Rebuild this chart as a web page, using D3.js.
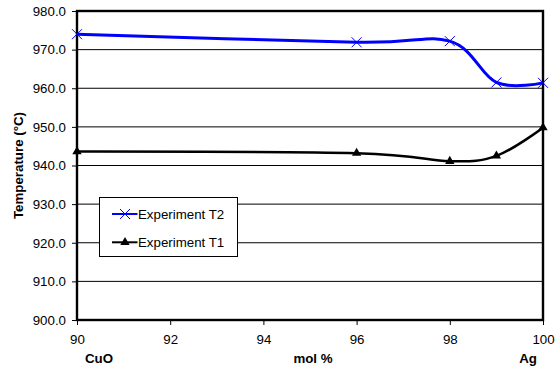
<!DOCTYPE html>
<html>
<head>
<meta charset="utf-8">
<script src="https://cdn.jsdelivr.net/npm/d3@7"></script>
<style>
  html, body { margin: 0; padding: 0; background: #fff; }
  svg { display: block; font-family: "Liberation Sans", Arial, sans-serif; }
</style>
</head>
<body>
<svg id="chart" width="555" height="369"></svg>
<script>
// Composition (mol %) and measured temperatures
const molPercent = [90, 96, 98, 99, 100];
const tempT2 = [974.0, 971.9, 972.2, 961.5, 961.4];
const tempT1 = [943.6, 943.2, 941.1, 942.5, 949.8];
const xTicks = [90, 92, 94, 96, 98, 100];
const yTicks = [900, 910, 920, 930, 940, 950, 960, 970, 980];
const seriesNames = ["Experiment T2", "Experiment T1"];

const FONT = 13.3;
const svg = d3.select("#chart");
const plotLeft = 77, plotRight = 543, plotTop = 11, plotBottom = 320;

const x = d3.scaleLinear().domain([90, 100]).range([plotLeft, plotRight]);
const y = d3.scaleLinear().domain([900, 980]).range([plotBottom, plotTop]);

// Horizontal gridlines
svg.append("g")
  .selectAll("line")
  .data(yTicks)
  .join("line")
  .attr("x1", plotLeft).attr("x2", plotRight)
  .attr("y1", d => y(d))
  .attr("y2", d => y(d))
  .attr("stroke", "#000")
  .attr("stroke-width", 1);

// Y axis
const yAxis = d3.axisLeft(y).tickValues(yTicks).tickFormat(d3.format(".1f"))
  .tickSize(5).tickSizeOuter(0).tickPadding(6);
const gy = svg.append("g").attr("transform", `translate(${plotLeft},0)`).call(yAxis);
gy.select(".domain").remove();
gy.selectAll("line").attr("stroke", "#000");
gy.selectAll("text").attr("font-size", FONT).attr("fill", "#000");

// X axis
const xAxis = d3.axisBottom(x).tickValues(xTicks).tickFormat(d3.format("d"))
  .tickSize(5).tickSizeOuter(0).tickPadding(10);
const gx = svg.append("g").attr("transform", `translate(0,${plotBottom})`).call(xAxis);
gx.select(".domain").remove();
gx.selectAll("line").attr("stroke", "#000");
gx.selectAll("text").attr("font-size", FONT).attr("fill", "#000");

// Plot frame
svg.append("rect")
  .attr("x", plotLeft).attr("y", plotTop)
  .attr("width", plotRight - plotLeft).attr("height", plotBottom - plotTop)
  .attr("fill", "none").attr("stroke", "#000").attr("stroke-width", 2.4);

// Axis titles
const titleY = 362.5;
svg.append("text").attr("x", 99).attr("y", titleY).attr("text-anchor", "middle")
  .attr("font-size", FONT).attr("font-weight", "bold").text("CuO");
svg.append("text").attr("x", 313).attr("y", titleY).attr("text-anchor", "middle")
  .attr("font-size", FONT).attr("font-weight", "bold").text("mol %");
svg.append("text").attr("x", 528).attr("y", titleY).attr("text-anchor", "middle")
  .attr("font-size", FONT).attr("font-weight", "bold").text("Ag");
svg.append("text")
  .attr("transform", `translate(23,${(plotTop + plotBottom) / 2}) rotate(-90)`)
  .attr("text-anchor", "middle")
  .attr("font-size", FONT).attr("font-weight", "bold").text("Temperature (°C)");

// Smoothed series lines
const line = d3.line().x(d => x(d[0])).y(d => y(d[1])).curve(d3.curveCardinal.tension(0));
const t2 = molPercent.map((m, i) => [m, tempT2[i]]);
const t1 = molPercent.map((m, i) => [m, tempT1[i]]);

svg.append("path").attr("d", line(t2)).attr("fill", "none")
  .attr("stroke", "#0000ff").attr("stroke-width", 3);
svg.append("path").attr("d", line(t1)).attr("fill", "none")
  .attr("stroke", "#000").attr("stroke-width", 2.5);

// Markers
function crossPath(cx, cy, r) {
  return `M${cx - r},${cy - r}L${cx + r},${cy + r}M${cx - r},${cy + r}L${cx + r},${cy - r}`;
}
const tri = d3.symbol().type(d3.symbolTriangle).size(38);

svg.append("g").selectAll("path").data(t2).join("path")
  .attr("d", d => crossPath(x(d[0]), y(d[1]), 5))
  .attr("stroke", "#0000ff").attr("stroke-width", 1).attr("fill", "none");

svg.append("g").selectAll("path").data(t1).join("path")
  .attr("transform", d => `translate(${x(d[0])},${y(d[1])})`)
  .attr("d", tri).attr("fill", "#000");

// Legend
const lg = svg.append("g");
lg.append("rect").attr("x", 99.5).attr("y", 197.5).attr("width", 138).attr("height", 59)
  .attr("fill", "#fff").attr("stroke", "#000").attr("stroke-width", 1);
const legendRows = [
  { name: seriesNames[0], cy: 214, color: "#0000ff" },
  { name: seriesNames[1], cy: 242.3, color: "#000" }
];
legendRows.forEach((r, i) => {
  lg.append("line").attr("x1", 112).attr("x2", 137.5).attr("y1", r.cy).attr("y2", r.cy)
    .attr("stroke", r.color).attr("stroke-width", 2);
  if (i === 0) {
    lg.append("path").attr("d", crossPath(125, r.cy, 5))
      .attr("stroke", r.color).attr("stroke-width", 1).attr("fill", "none");
  } else {
    lg.append("path").attr("transform", `translate(125,${r.cy})`).attr("d", tri).attr("fill", "#000");
  }
  lg.append("text").attr("x", 138).attr("y", r.cy + 4.6).attr("font-size", FONT).text(r.name);
});
</script>
</body>
</html>
